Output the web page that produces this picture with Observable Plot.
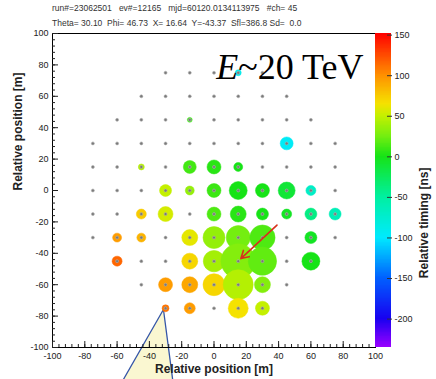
<!DOCTYPE html>
<html><head><meta charset="utf-8">
<script src="https://cdn.jsdelivr.net/npm/d3@7"></script>
<script src="https://cdn.jsdelivr.net/npm/@observablehq/plot@0.6"></script>
<style>
body{margin:0;background:#fff}
#wrap{position:relative;width:436px;height:379px;font-family:"Liberation Sans",Arial,sans-serif;overflow:hidden}
#wrap svg{position:absolute;left:0;top:0}
.hdr{position:absolute;left:52px;font-size:8.5px;color:#333;white-space:pre;z-index:5}
</style>
</head><body>
<div id="wrap"></div>
<script>
// ---- header texts
const headerLine1 = "run#=23062501   ev#=12165   mjd=60120.0134113975   #ch= 45";
const headerLine2 = "Theta= 30.10  Phi= 46.73  X= 16.64  Y=-43.37  Sfl=386.8 Sd=  0.0";

// ---- detector stations (rows of y with their x positions, m)
const rowY = [75, 60, 45, 30, 15, 0, -15, -30, -45, -60, -75];
const rowX = [
  [-30, -15, 0, 15, 30],
  [-45, -30, -15, 0, 15, 30, 45],
  [-60, -45, -30, -15, 0, 15, 30, 45, 60],
  [-75, -60, -45, -30, -15, 0, 15, 30, 45, 60, 75],
  [-75, -60, -45, -30, -15, 0, 15, 30, 45, 60, 75],
  [-75, -60, -45, -30, -15, 0, 15, 30, 45, 60, 75],
  [-75, -60, -45, -30, -15, 0, 15, 30, 45, 60, 75],
  [-75, -60, -45, -30, -15, 0, 15, 30, 45, 60, 75],
  [-60, -45, -30, -15, 0, 15, 30, 45, 60],
  [-45, -30, -15, 0, 15, 30, 45],
  [-30, -15, 0, 15, 30]
];

// ---- hit stations: position (m), relative timing (ns), signal (particles)
const hitX    = [15, -15, 45, -45, -15, 0, 15, -30, -15, 0, 15, 30, 45, 60, -45, -30, 0, 15, 30, 45, 60, 75, -60, -45, -15, 0, 15, 30, 60, -60, -15, 0, 15, 30, 60, -30, -15, 0, 15, 30, -30, -15, 15, 30];
const hitY    = [75, 45, 30, 15, 15, 15, 15, 0, 0, 0, 0, 0, 0, 0, -15, -15, -15, -15, -15, -15, -15, -15, -30, -30, -30, -30, -30, -30, -30, -45, -45, -45, -45, -45, -45, -60, -60, -60, -60, -60, -75, -75, -75, -75];
const hitTime = [-90, 10, -95, 45, 12, 5, 0, 50, 35, 10, 0, 0, -12, -70, 75, 55, 15, 5, 0, -5, -40, -62, 95, 85, 60, 35, 25, 15, -5, 115, 70, 40, 30, 20, 0, 95, 90, 70, 45, 30, 110, 95, 65, 50];
const hitSignal = [9, 6, 42, 9, 42, 49, 20, 36, 20, 49, 81, 49, 72, 25, 25, 56, 49, 64, 36, 25, 36, 36, 20, 20, 64, 121, 144, 160, 36, 25, 64, 115, 300, 200, 81, 49, 64, 121, 225, 64, 12, 30, 100, 49];

// ---- shower core and annotations
const coreXY = [16.64, -43.37];
const arrowFromXY = [39, -22];
const energyLabel = "E~20 TeV";
const calloutX = [-31.3, -57, -25.4];
const calloutY = [-75.8, -122, -122];

// ---- axes ticks
const posMajor = [-100, -80, -60, -40, -20, 0, 20, 40, 60, 80, 100];
const posMinor = d3.range(-100, 101, 4);
const timeTicks = [-200, -150, -100, -50, 0, 50, 100, 150];
const timeDomain = [-235, 152];

// ---- palette
const paletteStops  = [-235, -200, -150, -100, -50, 0, 25, 50, 65, 100, 152];
const paletteColors = ["#9a00ff", "#1800f0", "#0060ff", "#00eaff", "#00f0a0", "#16e316", "#74ee10", "#c4f000", "#f5e200", "#ff9000", "#ff0000"];

const stations = rowY.flatMap((y, i) => rowX[i].map(x => ({x, y})));
const hits = hitX.map((x, i) => ({x, y: hitY[i], t: hitTime[i], n: hitSignal[i]}));
const callout = calloutX.map((x, i) => ({x, y: calloutY[i]}));
const arrowData = [{x1: arrowFromXY[0], y1: arrowFromXY[1], x2: coreXY[0], y2: coreXY[1]}];

const colorOpts = {type: "linear", domain: paletteStops, range: paletteColors, interpolate: "rgb", clamp: true};
const font = "'Liberation Sans', Arial, sans-serif";
const fmt = d => String(d);

const main = Plot.plot({
  width: 436, height: 379,
  marginLeft: 52, marginRight: 61, marginTop: 33, marginBottom: 32,
  style: {background: "transparent", overflow: "visible", fontFamily: font, fontSize: "9px", color: "#222"},
  x: {domain: [-100, 100], label: null},
  y: {domain: [-100, 100], label: null},
  color: colorOpts,
  r: {type: "sqrt", domain: [0, 300], range: [0, 17.3]},
  marks: [
    Plot.line(callout.concat([callout[0]]), {x: "x", y: "y", fill: "#f9f6c9", fillOpacity: 0.85, stroke: "#3556a8", strokeWidth: 1.3, curve: "linear"}),
    Plot.frame({stroke: "#000", strokeWidth: 1}),
    Plot.dot(hits, {x: "x", y: "y", r: "n", fill: "t", stroke: "t", strokeOpacity: 0.5, strokeWidth: 1, sort: null}),
    Plot.dot(stations, {x: "x", y: "y", r: 1.5, fill: "#7a7a7a", stroke: "#b0b0b0", strokeWidth: 0.6}),
    Plot.arrow(arrowData, {x1: "x1", y1: "y1", x2: "x2", y2: "y2", stroke: "#d8301c", strokeWidth: 1.6, headLength: 8}),
    Plot.text([energyLabel], {frameAnchor: "top-right", dx: -12, dy: 45, lineAnchor: "bottom", textAnchor: "end", fontSize: 36, fontFamily: "'Liberation Serif', 'Times New Roman', serif", fill: "#000"}),
    Plot.axisX({ticks: posMinor, tickSize: -3, tickFormat: () => "", label: null}),
    Plot.axisX({ticks: posMajor, tickSize: -6, tickFormat: () => "", label: null}),
    Plot.axisX({ticks: posMajor, tickSize: 0, tickPadding: 5, tickFormat: fmt, label: null, fill: "#222"}),
    Plot.axisY({ticks: posMinor, tickSize: -3, tickFormat: () => "", label: null}),
    Plot.axisY({ticks: posMajor, tickSize: -6, tickFormat: () => "", label: null}),
    Plot.axisY({ticks: posMajor, tickSize: 0, tickPadding: 4, tickFormat: fmt, label: null, fill: "#222"}),
    Plot.text(["Relative position [m]"], {frameAnchor: "bottom", dy: 25, fontSize: 12, fontWeight: "bold", fill: "#222"}),
    Plot.text(["Relative position [m]"], {frameAnchor: "left", rotate: -90, dx: -34, fontSize: 12, fontWeight: "bold", fill: "#222"})
  ]
});

const bar = Plot.plot({
  width: 436, height: 379,
  marginLeft: 375, marginRight: 45, marginTop: 33, marginBottom: 32,
  style: {background: "transparent", overflow: "visible", fontFamily: font, fontSize: "9px", color: "#222"},
  x: {domain: [0, 1], axis: null},
  y: {domain: timeDomain, axis: null},
  color: colorOpts,
  marks: [
    Plot.rect(d3.range(timeDomain[0], timeDomain[1], 1), {x1: 0, x2: 1, y1: d => d, y2: d => Math.min(d + 1.3, timeDomain[1]), fill: d => d + 0.5, shapeRendering: "crispEdges"}),
    Plot.axisY({anchor: "right", ticks: timeTicks, tickSize: -5, tickFormat: () => "", label: null, stroke: "#333"}),
    Plot.axisY({anchor: "right", ticks: timeTicks, tickSize: 0, tickPadding: 3, tickFormat: fmt, label: null, fill: "#222"}),
    Plot.text(["Relative timing [ns]"], {frameAnchor: "right", rotate: -90, dx: 33, dy: -23, fontSize: 12, fontWeight: "bold", fill: "#222"})
  ]
});

const wrap = document.getElementById("wrap");
wrap.appendChild(main);
wrap.appendChild(bar);

// italic E in the energy label
d3.select(main).selectAll("text").filter(function() { return this.textContent === energyLabel; }).each(function() {
  const s = d3.select(this);
  s.text(null);
  s.append("tspan").attr("font-style", "italic").text(energyLabel.slice(0, 1));
  s.append("tspan").text(energyLabel.slice(1));
});

for (const [txt, top] of [[headerLine1, 3], [headerLine2, 18]]) {
  const d = document.createElement("div");
  d.className = "hdr"; d.style.top = top + "px"; d.textContent = txt;
  wrap.appendChild(d);
}
</script>
</body></html>
